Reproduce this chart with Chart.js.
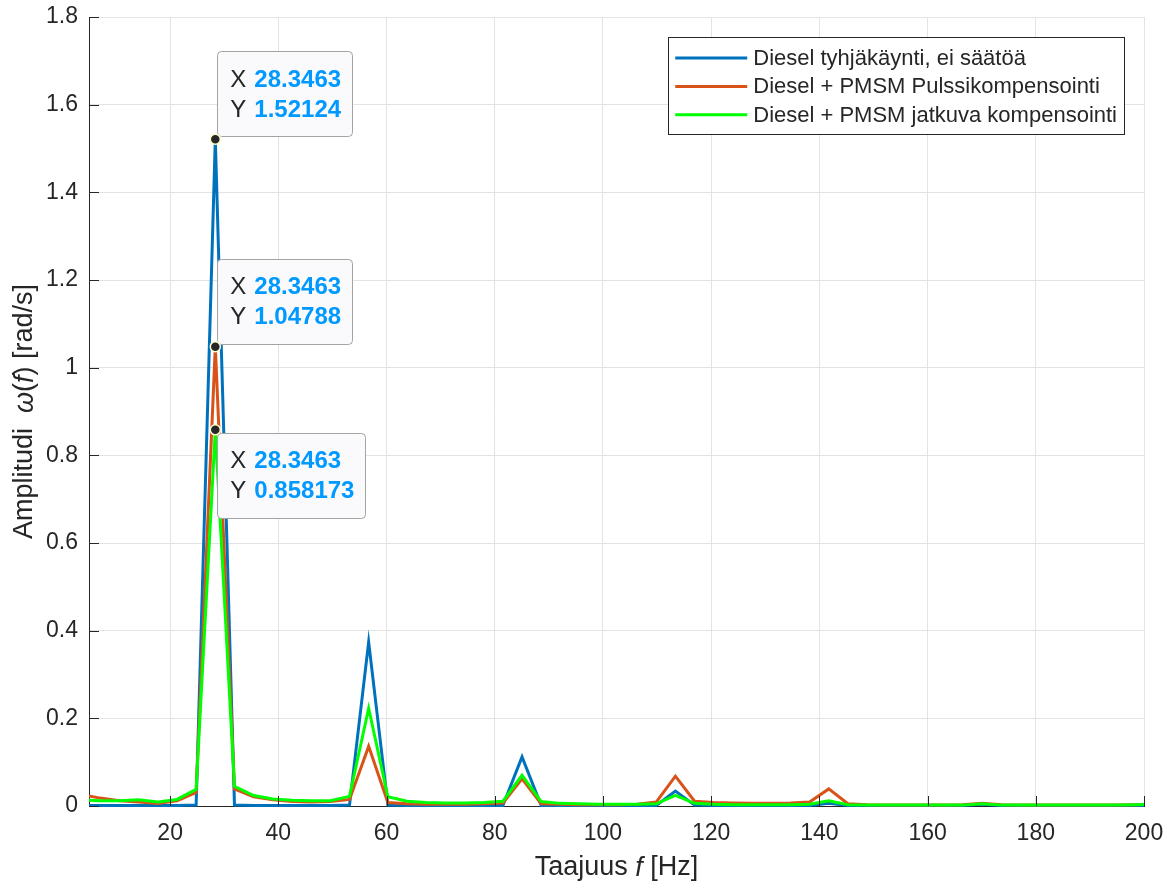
<!DOCTYPE html>
<html>
<head>
<meta charset="utf-8">
<script src="https://cdn.jsdelivr.net/npm/chart.js@4.4.1/dist/chart.umd.min.js"></script>
<style>
html, body { margin: 0; padding: 0; background: #fff; }
canvas { display: block; }
</style>
</head>
<body>
<canvas id="fftChart" width="1176" height="882"></canvas>
<script>
// taajuuspisteet (Hz)
const freq = [3.54, 7.09, 10.63, 14.17, 17.72, 21.26, 24.80, 28.3463, 31.89, 35.43,
  38.98, 42.52, 46.06, 49.61, 53.15, 56.69, 60.24, 63.78, 67.32, 70.87,
  74.41, 77.95, 81.50, 85.04, 88.58, 92.13, 95.67, 99.21, 102.76, 106.30,
  109.84, 113.39, 116.93, 120.47, 124.02, 127.56, 131.10, 134.64, 138.19, 141.73,
  145.27, 148.82, 152.36, 155.90, 159.45, 162.99, 166.53, 170.08, 173.62, 177.16,
  180.71, 184.25, 187.79, 191.34, 194.88, 198.42, 201.97];

// Diesel tyhjäkäynti, ei säätöä
const idleNoControl = [0.001, 0.001, 0.001, 0.001, 0.001, 0.001, 0.002, 1.52124, 0.002, 0.001,
  0.001, 0.001, 0.001, 0.001, 0.002, 0.374, 0.002, 0.001, 0.001, 0.001,
  0.001, 0.001, 0.001, 0.112, 0.001, 0.001, 0.001, 0.001, 0.001, 0.001,
  0.001, 0.034, 0.002, 0.001, 0.001, 0.001, 0.001, 0.001, 0.001, 0.006,
  0.001, 0.001, 0.001, 0.001, 0.001, 0.001, 0.001, 0.004, 0.001, 0.001,
  0.001, 0.001, 0.001, 0.001, 0.001, 0.001, 0.001];

// Diesel + PMSM Pulssikompensointi
const pulseComp = [0.026, 0.018, 0.012, 0.009, 0.006, 0.012, 0.031, 1.04788, 0.039, 0.021,
  0.014, 0.010, 0.009, 0.010, 0.015, 0.136, 0.008, 0.005, 0.004, 0.004,
  0.004, 0.005, 0.007, 0.062, 0.005, 0.004, 0.003, 0.003, 0.003, 0.004,
  0.009, 0.068, 0.011, 0.008, 0.007, 0.006, 0.006, 0.007, 0.009, 0.039,
  0.005, 0.003, 0.002, 0.002, 0.002, 0.002, 0.003, 0.006, 0.003, 0.002,
  0.002, 0.002, 0.002, 0.002, 0.002, 0.003, 0.004];

// Diesel + PMSM jatkuva kompensointi
const contComp = [0.014, 0.012, 0.012, 0.014, 0.009, 0.015, 0.038, 0.858173, 0.045, 0.024,
  0.016, 0.013, 0.012, 0.012, 0.022, 0.223, 0.021, 0.011, 0.008, 0.007,
  0.007, 0.008, 0.011, 0.070, 0.010, 0.006, 0.005, 0.004, 0.004, 0.004,
  0.005, 0.024, 0.006, 0.004, 0.003, 0.003, 0.003, 0.003, 0.004, 0.012,
  0.003, 0.002, 0.002, 0.002, 0.002, 0.002, 0.002, 0.005, 0.002, 0.002,
  0.002, 0.002, 0.002, 0.002, 0.002, 0.003, 0.004];

const seriesLabels = ['Diesel tyhjäkäynti, ei säätöä', 'Diesel + PMSM Pulssikompensointi', 'Diesel + PMSM jatkuva kompensointi'];
const seriesColors = ['#0072BD', '#D95319', '#00FF00'];
const seriesValues = [idleNoControl, pulseComp, contComp];

const xTickValues = [20, 40, 60, 80, 100, 120, 140, 160, 180, 200];
const yTickValues = [0, 0.2, 0.4, 0.6, 0.8, 1, 1.2, 1.4, 1.6, 1.8];

// datatipit: sarja ja pisteen indeksi
const tipSeries = [0, 1, 2];
const tipIndex = 7;

const FONT = '"Liberation Sans", Arial, Helvetica, sans-serif';
const INK = '#262626';

function richText(c, parts, x, y, size) {
    let total = 0;
    parts.forEach(p => {
        c.font = (p[1] ? 'italic ' : '') + size + 'px ' + FONT;
        total += c.measureText(p[0]).width;
    });
    let cx = x - total / 2;
    c.textAlign = 'left';
    c.textBaseline = 'middle';
    parts.forEach(p => {
        c.font = (p[1] ? 'italic ' : '') + size + 'px ' + FONT;
        c.fillText(p[0], cx, y);
        cx += c.measureText(p[0]).width;
    });
}

// akselit, tikit, selite ja datatipit matlab-tyyliin
const decor = {
    id: 'decor',
    afterDatasetsDraw(chart) {
        const c = chart.ctx;
        const a = chart.chartArea;
        const xs = chart.scales.x, ys = chart.scales.y;
        c.save();

        // sisäänpäin osoittavat tikit
        c.strokeStyle = INK;
        c.lineWidth = 1;
        c.beginPath();
        xs.ticks.forEach(t => {
            const px = Math.round(xs.getPixelForValue(t.value)) + 0.5;
            c.moveTo(px, a.bottom);
            c.lineTo(px, a.bottom - 10);
        });
        ys.ticks.forEach(t => {
            const py = Math.round(ys.getPixelForValue(t.value)) + 0.5;
            c.moveTo(a.left, py);
            c.lineTo(a.left + 10, py);
        });
        c.stroke();

        // akselien otsikot
        c.fillStyle = INK;
        richText(c, [['Taajuus ', false], ['f', true], [' [Hz]', false]], (a.left + a.right) / 2, 868, 27);
        c.save();
        c.translate(25, (a.top + a.bottom) / 2);
        c.rotate(-Math.PI / 2);
        richText(c, [['Amplitudi  ', false], ['ω', true], ['(', false], ['f', true], [') [rad/s]', false]], 0, 0, 27);
        c.restore();

        // selite
        c.font = '22px ' + FONT;
        let tw = 0;
        seriesLabels.forEach(s => { tw = Math.max(tw, c.measureText(s).width); });
        const lw = 85 + tw + 7, lh = 97;
        const lx = a.right - 20 - lw, ly = a.top + 20;
        c.fillStyle = '#fff';
        c.fillRect(lx, ly, lw, lh);
        c.strokeStyle = INK;
        c.lineWidth = 1;
        c.strokeRect(Math.round(lx) + 0.5, Math.round(ly) + 0.5, Math.round(lw), lh);
        seriesLabels.forEach((s, i) => {
            const ry = ly + 21 + i * 28.4;
            c.strokeStyle = seriesColors[i];
            c.lineWidth = 3;
            c.beginPath();
            c.moveTo(lx + 7, ry);
            c.lineTo(lx + 79, ry);
            c.stroke();
            c.fillStyle = INK;
            c.textAlign = 'left';
            c.textBaseline = 'middle';
            c.fillText(s, lx + 85, ry + 1);
        });

        // datatipit
        const dots = [];
        tipSeries.forEach((ds, i) => {
            const pt = chart.getDatasetMeta(ds).data[tipIndex];
            const px = pt.x, py = pt.y;
            const xv = freq[tipIndex].toPrecision(6);
            const yv = seriesValues[ds][tipIndex].toPrecision(6);
            c.font = '24px ' + FONT;
            const labW = Math.max(c.measureText('X').width, c.measureText('Y').width);
            c.font = 'bold 24px ' + FONT;
            const valW = Math.max(c.measureText(xv).width, c.measureText(yv).width);
            const w = 13 + labW + 8 + valW + 11, h = 85;
            const bx = px + 2;
            const by = i === 2 ? py + 3 : py - 3 - h;
            c.fillStyle = '#fafafc';
            c.strokeStyle = '#a3a3a3';
            c.lineWidth = 1;
            c.beginPath();
            c.roundRect(Math.round(bx) + 0.5, Math.round(by) + 0.5, Math.round(w), h, 4);
            c.fill();
            c.stroke();
            c.textAlign = 'left';
            c.textBaseline = 'middle';
            [['X', xv], ['Y', yv]].forEach((row, r) => {
                const ty = by + 29 + r * 30;
                c.font = '24px ' + FONT;
                c.fillStyle = INK;
                c.fillText(row[0], bx + 13, ty);
                c.font = 'bold 24px ' + FONT;
                c.fillStyle = '#0099FF';
                c.fillText(row[1], bx + 13 + labW + 8, ty);
            });
            dots.push([px, py]);
        });
        dots.forEach(d => {
            c.beginPath();
            c.arc(d[0], d[1], 5, 0, Math.PI * 2);
            c.fillStyle = INK;
            c.fill();
            c.strokeStyle = '#ffffcc';
            c.lineWidth = 1.5;
            c.stroke();
        });

        c.restore();
    }
};

const ctx = document.getElementById('fftChart').getContext('2d');

new Chart(ctx, {
    type: 'line',
    data: {
        datasets: seriesValues.map((vals, i) => ({
            label: seriesLabels[i],
            data: freq.map((f, k) => ({ x: f, y: vals[k] })),
            borderColor: seriesColors[i],
            backgroundColor: seriesColors[i],
            borderWidth: 3,
            pointRadius: 0,
            tension: 0,
            fill: false,
            order: 2 - i,
            clip: { left: 0, right: 0, top: 5, bottom: 5 }
        }))
    },
    options: {
        responsive: false,
        animation: false,
        events: [],
        layout: { padding: { left: 0, top: 17, right: 32, bottom: 0 } },
        scales: {
            x: {
                type: 'linear',
                min: 5,
                max: 200,
                afterBuildTicks: s => { s.ticks = xTickValues.map(v => ({ value: v })); },
                afterFit: s => { s.height = 76; s.paddingLeft = 0; s.paddingRight = 0; },
                grid: { color: '#e3e3e3', drawTicks: false },
                border: { display: true, color: INK, width: 1 },
                ticks: {
                    padding: 14,
                    color: INK,
                    font: { family: FONT, size: 23 },
                    maxRotation: 0,
                    callback: v => String(v)
                }
            },
            y: {
                min: 0,
                max: 1.8,
                afterBuildTicks: s => { s.ticks = yTickValues.map(v => ({ value: v })); },
                afterFit: s => { s.width = 89; s.paddingTop = 0; s.paddingBottom = 0; },
                grid: { color: '#e3e3e3', drawTicks: false },
                border: { display: true, color: INK, width: 1 },
                ticks: {
                    padding: 11,
                    color: INK,
                    font: { family: FONT, size: 23 },
                    callback: v => String(+v.toFixed(1))
                }
            }
        },
        plugins: {
            legend: { display: false },
            tooltip: { enabled: false },
            title: { display: false }
        }
    },
    plugins: [decor]
});
</script>
</body>
</html>
